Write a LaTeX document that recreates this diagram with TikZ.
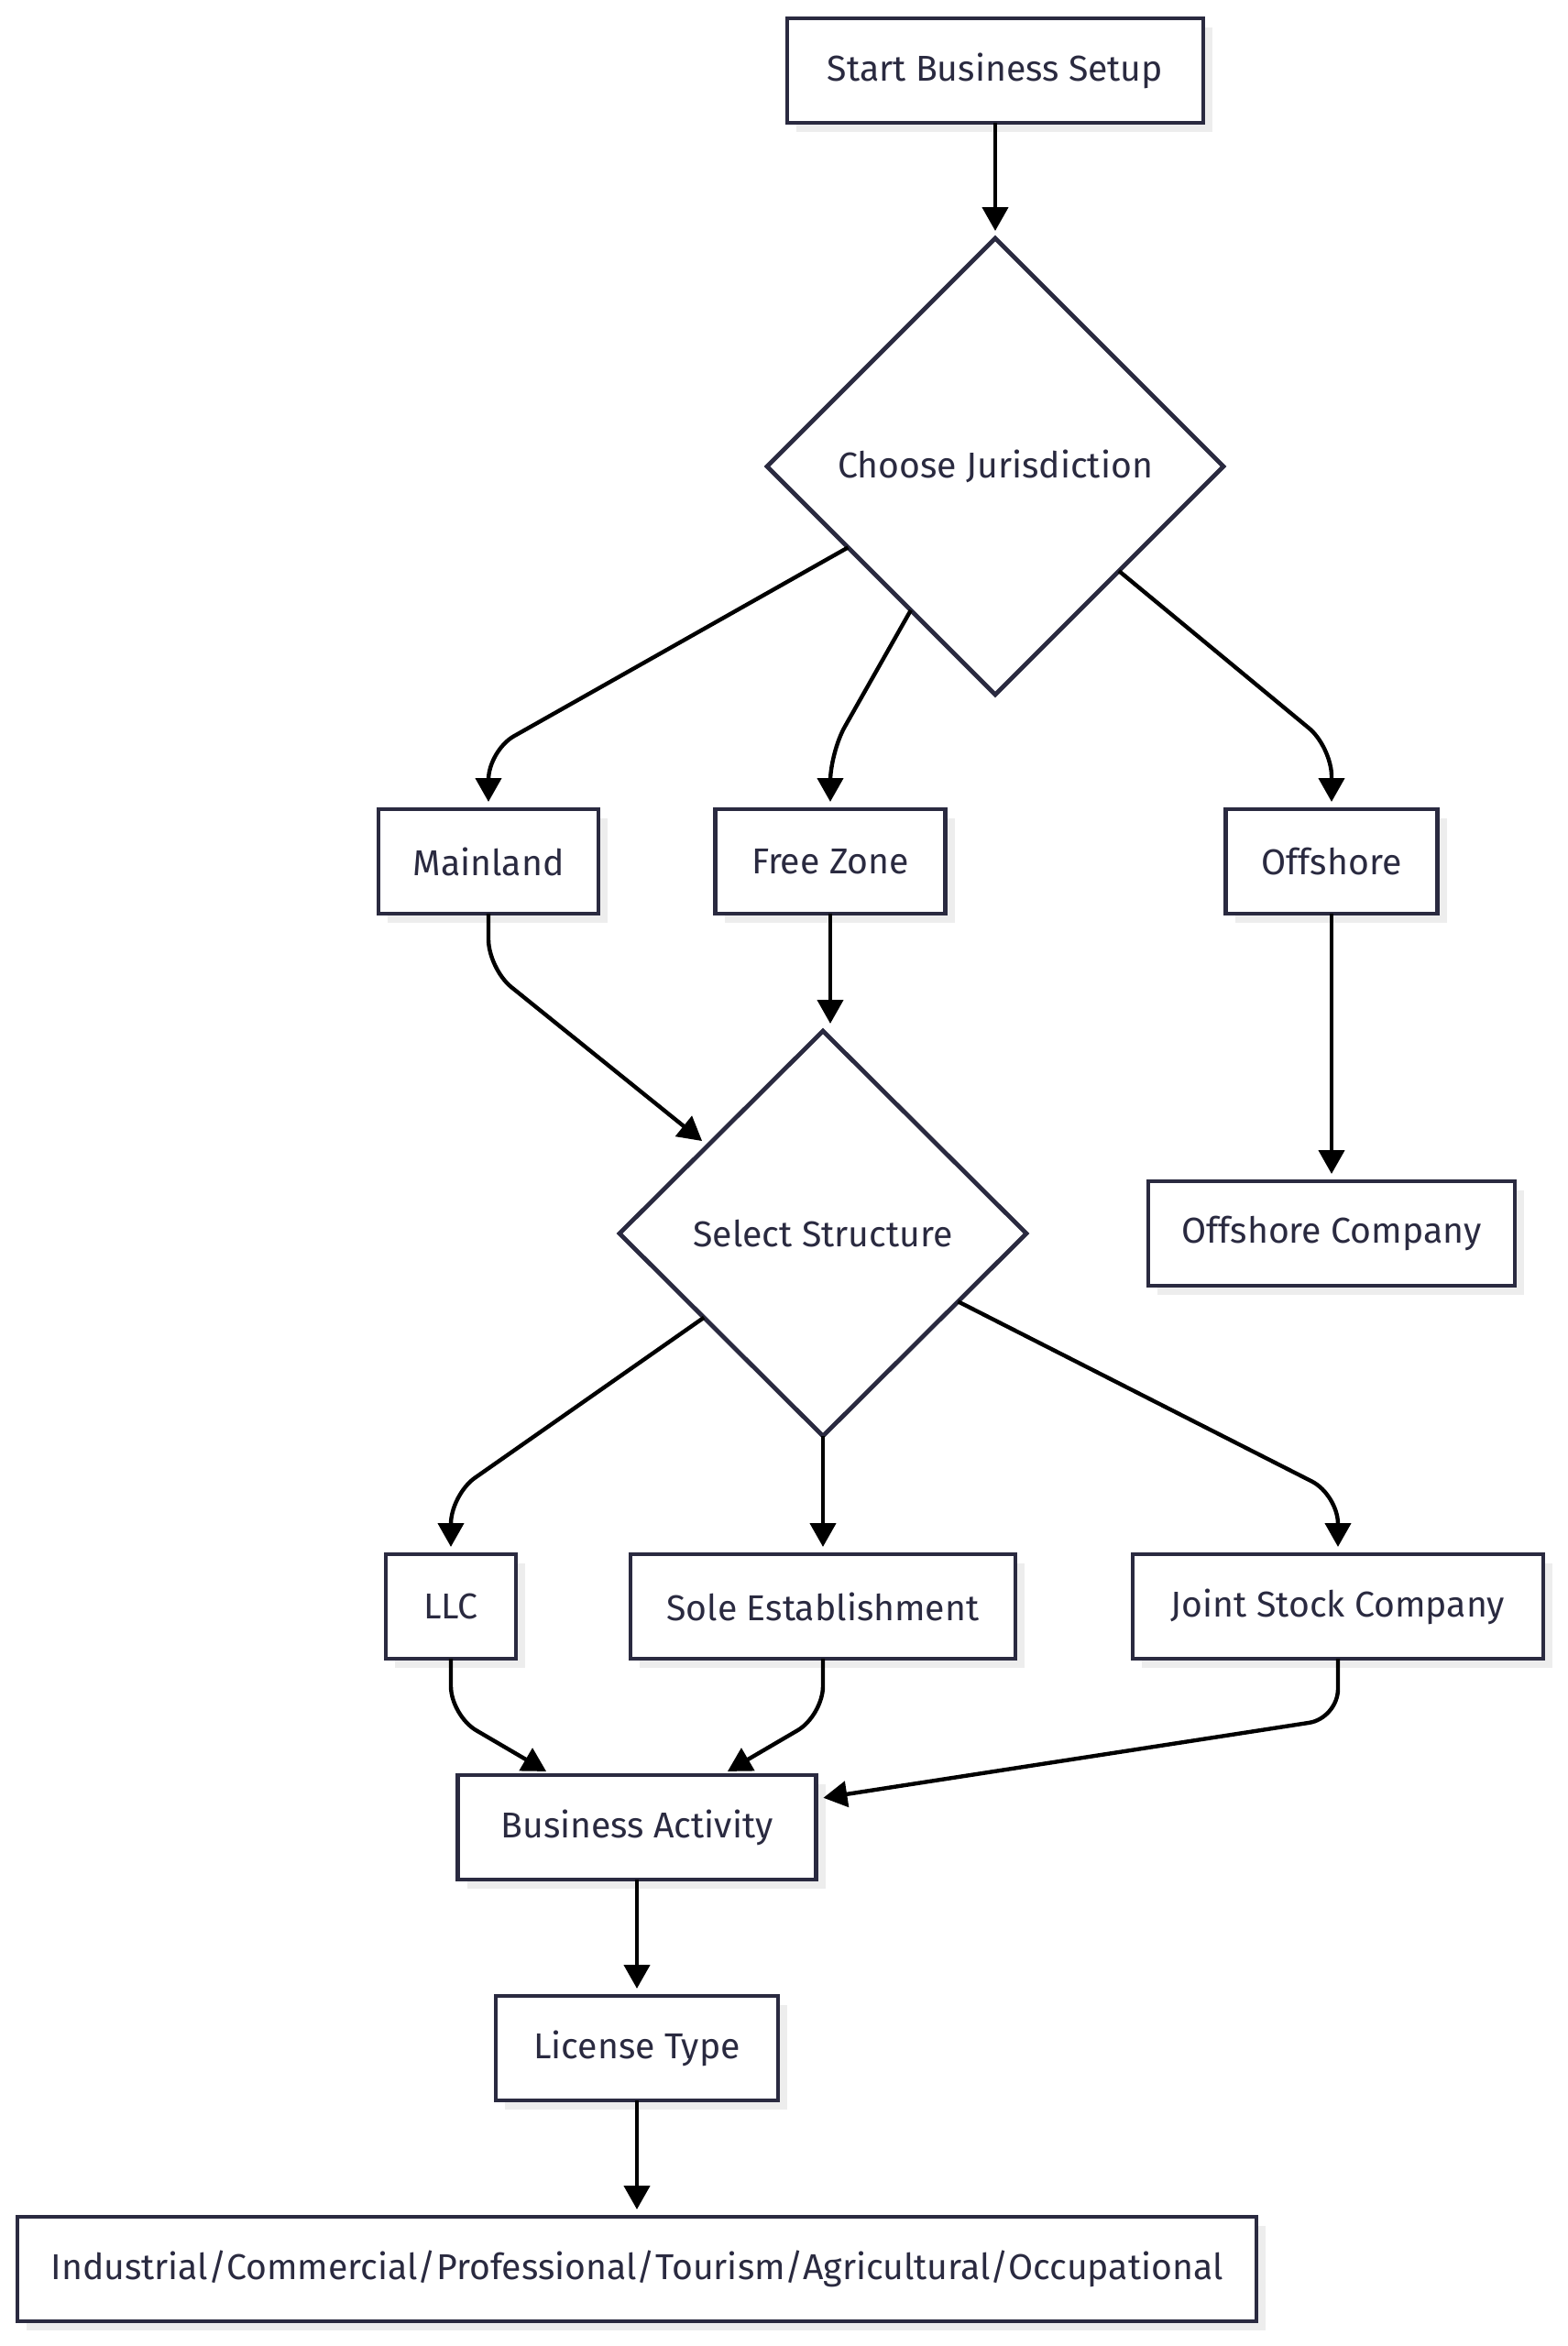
\documentclass[tikz,border=0pt]{standalone}
\usepackage{fontspec}
\setmainfont{Fira Sans}
\usepackage{xcolor}
\usepackage{tikz}
\usetikzlibrary{arrows.meta,positioning,shapes.geometric,calc,shadows}
\definecolor{nodeline}{HTML}{2A2A40}
\definecolor{nodetext}{HTML}{2A2A40}
\definecolor{shadowgray}{HTML}{EDEDED}

\begin{document}
\begin{tikzpicture}[
   font=\fontsize{19.6}{23}\selectfont,
   node distance=63.5pt,
   box/.style={draw=nodeline,line width=2.4pt,fill=white,text=nodetext,align=center,
     minimum height=57pt,inner sep=0pt,outer sep=0pt,
     drop shadow={shadow xshift=5pt,shadow yshift=-5pt,fill=shadowgray,opacity=1}},
   choice/.style={diamond,draw=nodeline,line width=2.4pt,fill=white,text=nodetext,
     aspect=1,inner sep=0pt,outer sep=0pt},
   link/.style={->,line width=2.2pt,rounded corners=16pt,shorten >=4pt},
   >={Triangle[length=13pt,width=14pt]}]
 \useasboundingbox (0,0) rectangle (855pt,-1280pt);
 \node[box,minimum width=227pt] (start) at (543pt,-38.5pt) {Start Business Setup};
 \node[choice,minimum width=249pt,minimum height=249pt,below=63pt of start] (cj) {Choose Jurisdiction};
 \node[box,minimum width=120pt,below=62.5pt of cj,xshift=-276.5pt] (main) {Mainland};
 \node[box,minimum width=125.5pt,below=62.5pt of cj,xshift=-90pt] (fz) {Free Zone};
 \node[box,minimum width=115.5pt,below=62.5pt of cj,xshift=183.5pt] (off) {Offshore};
 \node[choice,minimum width=222pt,minimum height=221pt,below=64pt of fz,xshift=-4pt] (ss) {Select Structure};
 \node[box,minimum width=200pt,below=146pt of off] (offco) {Offshore Company};
 \node[box,minimum width=71pt,below=64.5pt of ss,xshift=-203pt] (llc) {LLC};
 \node[box,minimum width=210pt,below=64.5pt of ss] (sole) {Sole Establishment};
 \node[box,minimum width=224pt,below=64.5pt of ss,xshift=281pt] (jsc) {Joint Stock Company};
 \node[box,minimum width=195.5pt,below=of sole,xshift=-101.5pt] (ba) {Business Activity};
 \node[box,minimum width=154pt,below=of ba] (lt) {License Type};
 \node[box,minimum width=676pt,below=of lt] (ind) {Industrial/Commercial/Professional/Tourism/Agricultural/Occupational};
 % jurisdiction
 \draw[link] (start) -- (cj);
 \draw[link] ($(cj.west)!0.355!(cj.south)$) -- ($(main.north)+(0,32pt)$) -- (main);
 \draw[link] ($(cj.west)!0.63!(cj.south)$) -- ($(fz.north)+(0,31pt)$) -- (fz);
 \draw[link] ($(cj.east)!0.458!(cj.south)$) -- ($(off.north)+(0,34pt)$) -- (off);
 % structure
 \draw[link] (main) -- ($(main.south)+(0,-30pt)$) -- ($(ss.north)!0.566!(ss.west)$);
 \draw[link] (fz) -- (fz |- ss.north);
 \draw[link] (off) -- (offco);
 \draw[link] ($(ss.west)!0.415!(ss.south)$) -- ($(llc.north)+(0,32.5pt)$) -- (llc);
 \draw[link] (ss) -- (sole);
 \draw[link] ($(ss.east)!0.336!(ss.south)$) -- ($(jsc.north)+(0,32.5pt)$) -- (jsc);
 % activity and licence
 \draw[link] (llc) -- ($(llc.south)+(0,-31pt)$) -- ($(ba.north)+(-46pt,0)$);
 \draw[link] (sole) -- ($(sole.south)+(0,-31pt)$) -- ($(ba.north)+(46pt,0)$);
 \draw[link] (jsc) -- ($(jsc.south)+(0,-32.5pt)$) -- ($(ba.east)+(0,15.5pt)$);
 \draw[link] (ba) -- (lt);
 \draw[link] (lt) -- (ind);
\end{tikzpicture}
\end{document}
